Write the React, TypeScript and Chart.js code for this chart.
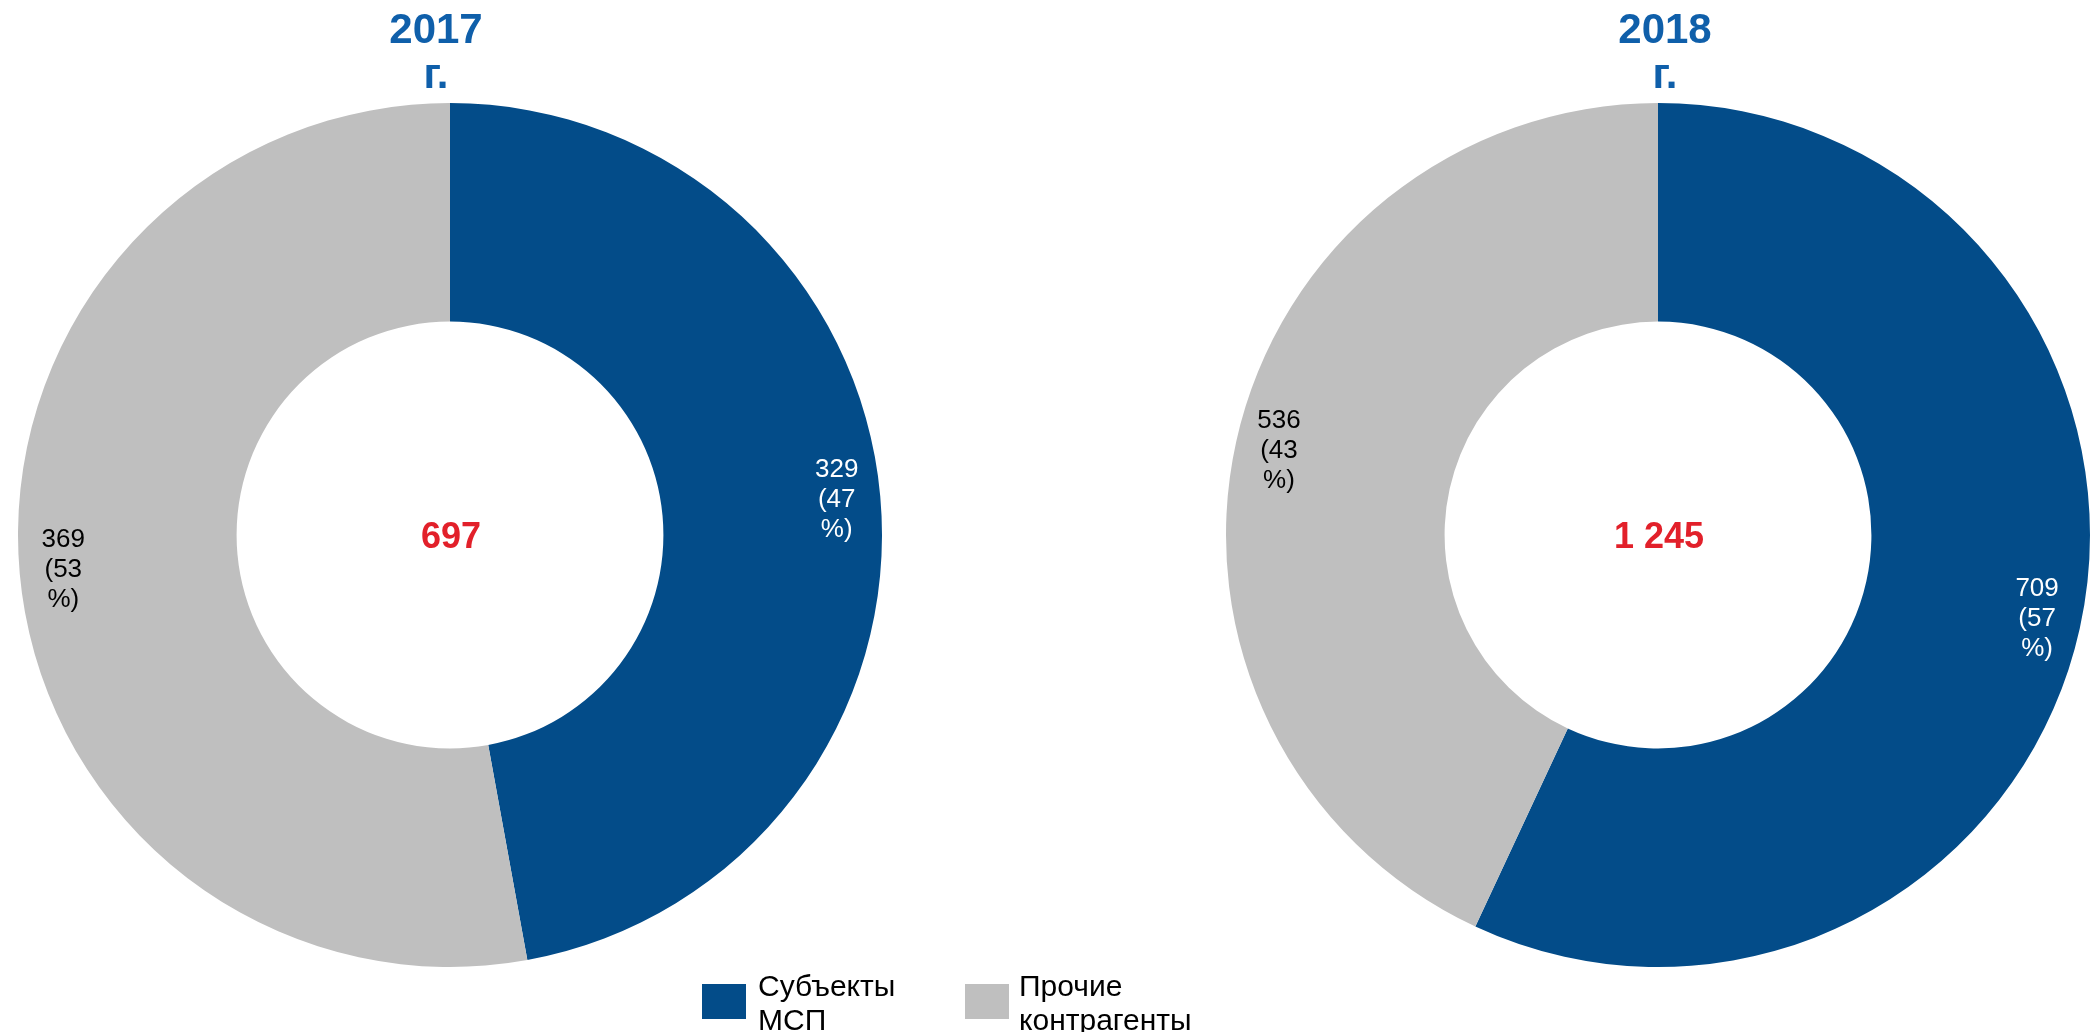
import React, { useEffect, useRef } from "react";
import { Chart, registerables } from "chart.js";

Chart.register(...registerables);

// ---- data ----
const categories = ["Субъекты МСП", "Прочие контрагенты"];
const years = ["2017", "2018"];
const values2017 = [329, 369];
const values2018 = [709, 536];
const totals = ["697", "1 245"];
const colors = ["#034C89", "#BFBFBF"];
const labelColors = ["#FFFFFF", "#000000"];

const FONT = "'Liberation Sans', Arial, sans-serif";

const donutText = {
  id: "donutText",
  afterDraw(chart: any, _args: any, opts: any) {
    const ctx = chart.ctx as CanvasRenderingContext2D;
    const meta = chart.getDatasetMeta(0);
    const data = chart.data.datasets[0].data as number[];
    const sum = data.reduce((a, b) => a + b, 0);
    ctx.save();
    let cx0 = 0;
    let cy0 = 0;
    meta.data.forEach((arc: any, i: number) => {
      const p = arc.getProps(["x", "y", "startAngle", "endAngle", "innerRadius", "outerRadius"], true);
      cx0 = p.x;
      cy0 = p.y;
      const mid = (p.startAngle + p.endAngle) / 2;
      const r = p.innerRadius + (p.outerRadius - p.innerRadius) * 0.8;
      const x = p.x + Math.cos(mid) * r;
      const y = p.y + Math.sin(mid) * r;
      const pct = Math.round((data[i] / sum) * 100);
      const lines = [String(data[i]), "(" + pct, "%)"];
      ctx.font = `26px ${FONT}`;
      ctx.fillStyle = labelColors[i];
      ctx.textAlign = "center";
      ctx.textBaseline = "middle";
      lines.forEach((t, k) => ctx.fillText(t, x, y + (k - 1) * 30));
    });
    // center total
    ctx.font = `bold 36px ${FONT}`;
    ctx.fillStyle = "#E2202A";
    ctx.textAlign = "center";
    ctx.textBaseline = "middle";
    ctx.fillText(opts.total, cx0 + 1, cy0 + 3);
    // title
    ctx.font = `bold 42px ${FONT}`;
    ctx.fillStyle = "#0F5FAA";
    ctx.textBaseline = "alphabetic";
    ctx.fillText(opts.title, cx0 + opts.titleDx, 43);
    ctx.fillText("г.", cx0 + opts.titleDx, 88);
    ctx.restore();
  },
};

function Donut({ values, total, title, left, titleDx }: any) {
  const ref = useRef<HTMLCanvasElement>(null);
  useEffect(() => {
    if (!ref.current) return;
    const chart = new Chart(ref.current, {
      type: "doughnut",
      data: {
        labels: categories,
        datasets: [
          {
            data: values,
            backgroundColor: colors,
            borderWidth: 0,
          },
        ],
      },
      options: {
        responsive: false,
        animation: false,
        cutout: "49.4%",
        layout: { padding: { top: 103, bottom: 65, left: 8, right: 8 } },
        plugins: {
          legend: { display: false },
          tooltip: { enabled: false },
          title: { display: false },
          donutText: { total, title, titleDx },
        } as any,
      },
      plugins: [donutText],
    });
    return () => chart.destroy();
  }, []);
  return (
    <canvas
      ref={ref}
      width={880}
      height={1032}
      style={{ position: "absolute", left, top: 0, width: 880, height: 1032 }}
    />
  );
}

function LegendItem({ color, lines, boxLeft, textLeft }: any) {
  return (
    <>
      <div
        style={{
          position: "absolute",
          left: boxLeft,
          top: 984,
          width: 44,
          height: 35,
          background: color,
        }}
      />
      <div
        style={{
          position: "absolute",
          left: textLeft,
          top: 969,
          font: `30px ${FONT}`,
          lineHeight: "34px",
          color: "#000",
          whiteSpace: "nowrap",
        }}
      >
        {lines.map((l: string, i: number) => (
          <div key={i}>{l}</div>
        ))}
      </div>
    </>
  );
}

export default function App() {
  return (
    <div
      style={{
        position: "fixed",
        left: 0,
        top: 0,
        width: 2098,
        height: 1032,
        background: "#fff",
        overflow: "hidden",
      }}
    >
      <Donut values={values2017} total={totals[0]} title={years[0]} left={10} titleDx={-14} />
      <Donut values={values2018} total={totals[1]} title={years[1]} left={1218} titleDx={7} />
      <LegendItem color={colors[0]} lines={["Субъекты", "МСП"]} boxLeft={702} textLeft={758} />
      <LegendItem color={colors[1]} lines={["Прочие", "контрагенты"]} boxLeft={965} textLeft={1019} />
    </div>
  );
}
